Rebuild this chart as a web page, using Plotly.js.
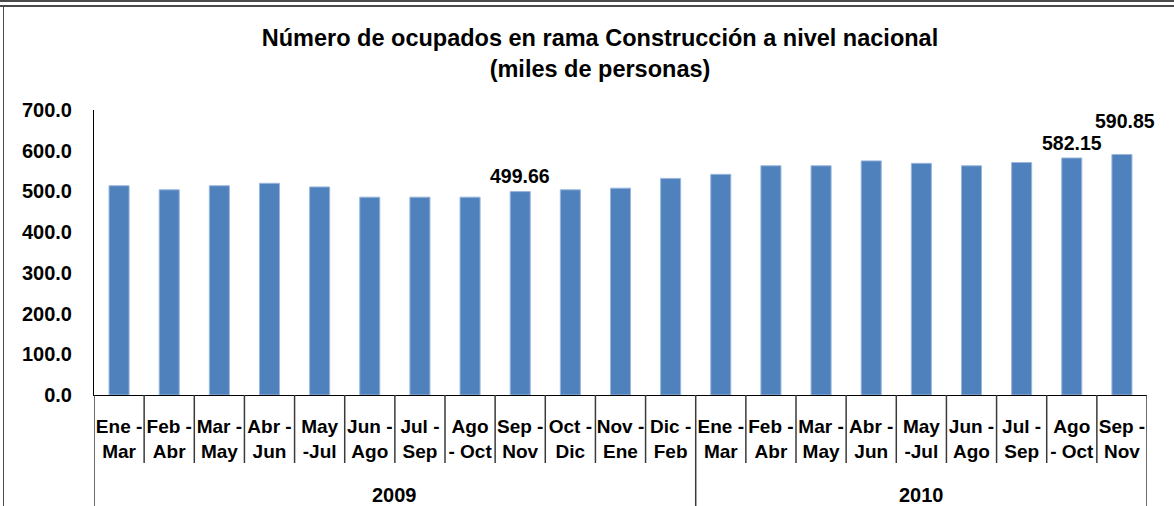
<!DOCTYPE html>
<html>
<head>
<meta charset="utf-8">
<script src="https://cdn.plot.ly/plotly-3.0.1.min.js"></script>
<style>
  html, body { margin: 0; padding: 0; background: #fff; }
  #wrap { position: relative; width: 1174px; height: 506px; overflow: hidden; }
  #chart { position: absolute; left: 0; top: 0; width: 1174px; height: 506px; }
  #topline { position: absolute; left: 0; top: 0; width: 1174px; height: 0; border-top: 7px double #4a4a4a; pointer-events: none; }
  #leftline { position: absolute; left: 3px; top: 7px; width: 0; height: 499px; border-left: 1.5px solid #4a4a4a; pointer-events: none; }
</style>
</head>
<body>
<div id="wrap">
  <div id="chart"></div>
  <div id="topline"></div>
  <div id="leftline"></div>
</div>
<script>
// ---- data ----
var years = ["2009", "2010"];
var periodsPerYear = [12, 9];
var periods = [
  "Ene -<br>Mar", "Feb -<br>Abr", "Mar -<br>May", "Abr -<br>Jun", "May<br>-Jul", "Jun -<br>Ago",
  "Jul -<br>Sep", "Ago<br>- Oct", "Sep -<br>Nov", "Oct -<br>Dic", "Nov -<br>Ene", "Dic -<br>Feb",
  "Ene -<br>Mar", "Feb -<br>Abr", "Mar -<br>May", "Abr -<br>Jun", "May<br>-Jul", "Jun -<br>Ago",
  "Jul -<br>Sep", "Ago<br>- Oct", "Sep -<br>Nov"
];
var ocupados = [
  514, 504, 514, 520, 511, 486, 486, 486, 499.66, 504, 508, 532,
  542, 563, 563, 575, 569, 563, 571, 582.15, 590.85
];
var labeledIdx = [8, 19, 20];
var yTickVals = [0, 100, 200, 300, 400, 500, 600, 700];

// ---- styling (not data) ----
var labelOffsets = { 8: [0, 16], 19: [0, 15], 20: [3, 33] };
var FONT = "Liberation Sans, Arial, sans-serif";

var idx = periods.map(function (_, i) { return i; });

var trace = {
  type: "bar",
  x: idx,
  y: ocupados,
  width: 0.4,
  marker: { color: "#4F81BD", line: { color: "#9BB7DD", width: 1 } },
  hoverinfo: "y"
};

var annotations = labeledIdx.map(function (i) {
  var off = labelOffsets[i] || [0, 16];
  return {
    x: i, y: ocupados[i], xref: "x", yref: "y",
    text: ocupados[i].toFixed(2),
    showarrow: false, xanchor: "center", yanchor: "middle",
    xshift: off[0], yshift: off[1],
    font: { family: FONT, size: 19.5, color: "#000", weight: "bold" }
  };
});

var shapes = [];
var start = 0;
var LINE = { color: "#3a3a3a", width: 1.5 };
years.forEach(function (yr, g) {
  var n = periodsPerYear[g];
  annotations.push({
    x: start + (n - 1) / 2, y: -0.352, xref: "x", yref: "paper",
    text: yr, showarrow: false, xanchor: "center", yanchor: "middle",
    font: { family: FONT, size: 20, color: "#000", weight: "bold" }
  });
  shapes.push({ type: "line", xref: "x", yref: "paper", x0: start - 0.5, x1: start - 0.5, y0: 0, y1: -0.40, line: LINE });
  for (var k = 1; k < n; k++) {
    shapes.push({ type: "line", xref: "x", yref: "paper", x0: start + k - 0.5, x1: start + k - 0.5, y0: 0, y1: -0.2386, line: LINE });
  }
  start += n;
});
shapes.push({ type: "line", xref: "x", yref: "paper", x0: start - 0.5, x1: start - 0.5, y0: 0, y1: -0.40, line: LINE });

var layout = {
  width: 1174, height: 506,
  margin: { l: 94, r: 27, t: 110, b: 111, pad: 0 },
  paper_bgcolor: "rgba(0,0,0,0)",
  plot_bgcolor: "rgba(0,0,0,0)",
  showlegend: false,
  bargap: 0.6,
  title: {
    text: "Número de ocupados en rama Construcción a nivel nacional<br>(miles de personas)",
    x: 600 / 1174, xanchor: "center", xref: "container",
    y: 1 - 46 / 506, yanchor: "top", yref: "container",
    font: { family: FONT, size: 23.5, color: "#000", weight: "bold" }
  },
  xaxis: {
    type: "linear",
    range: [-0.5, periods.length - 0.5],
    tickmode: "array", tickvals: idx, ticktext: periods,
    ticks: "", showgrid: false, zeroline: false,
    showline: true, linecolor: "#000", linewidth: 1,
    ticklabelstandoff: 14,
    tickfont: { family: FONT, size: 19, color: "#000", weight: "bold" },
    fixedrange: true
  },
  yaxis: {
    range: [0, 700],
    tickmode: "array", tickvals: yTickVals,
    ticktext: yTickVals.map(function (v) { return v.toFixed(1); }),
    ticks: "", showgrid: false, zeroline: false,
    showline: true, linecolor: "#000", linewidth: 1,
    ticklabelstandoff: 17,
    tickfont: { family: FONT, size: 20, color: "#000", weight: "bold" },
    fixedrange: true
  },
  annotations: annotations,
  shapes: shapes
};

Plotly.newPlot("chart", [trace], layout, { displayModeBar: false, staticPlot: true });
</script>
</body>
</html>
